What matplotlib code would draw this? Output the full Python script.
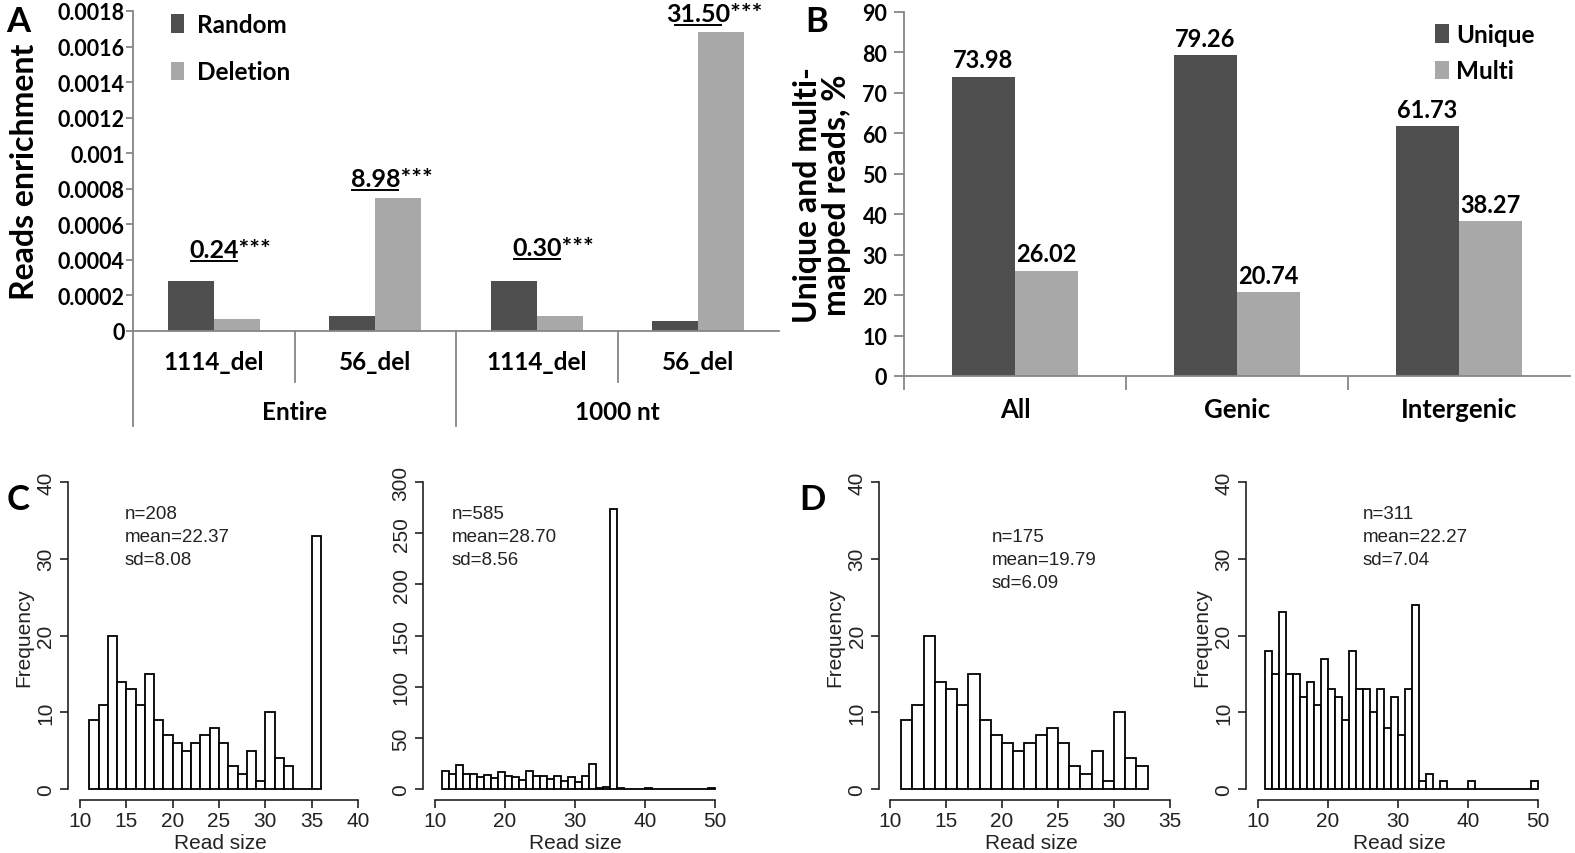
import numpy as np
import matplotlib
matplotlib.use("Agg")
import matplotlib.pyplot as plt
from matplotlib.transforms import Affine2D, blended_transform_factory

# ---------------- data ----------------
cats_A = ['1114_del', '56_del', '1114_del', '56_del']
groups_A = ['Entire', '1000 nt']
random_A = [0.000279, 0.0000837, 0.000279, 0.000054]
deletion_A = [0.000067, 0.000746, 0.000086, 0.00168]
ratio_A = ['0.24***', '8.98***', '0.30***', '31.50***']
ticks_A = [0, 0.0002, 0.0004, 0.0006, 0.0008, 0.001, 0.0012, 0.0014, 0.0016, 0.0018]
ticklabels_A = ['0', '0.0002', '0.0004', '0.0006', '0.0008', '0.001', '0.0012', '0.0014', '0.0016', '0.0018']

cats_B = ['All', 'Genic', 'Intergenic']
unique_B = [73.98, 79.26, 61.73]
multi_B = [26.02, 20.74, 38.27]

c1_first_bin = 11
c1_counts = [9, 11, 20, 14, 13, 11, 15, 9, 7, 6, 5, 6, 7, 8, 6, 3, 2, 5, 1, 10, 4, 3, 0, 0, 33]
c2_first_bin = 11
c2_counts = [18, 15, 23, 15, 15, 12, 14, 11, 17, 13, 12, 9, 18, 13, 13, 10, 13, 8, 12, 7,
             13, 24, 1, 2, 274, 1, 0, 0, 0, 1, 0, 0, 0, 0, 0, 0, 0, 0, 1]
d1_first_bin = 11
d1_counts = [9, 11, 20, 14, 13, 11, 15, 9, 7, 6, 5, 6, 7, 8, 6, 3, 2, 5, 1, 10, 4, 3]
d2_first_bin = 11
d2_counts = [18, 15, 23, 15, 15, 12, 14, 11, 17, 13, 12, 9, 18, 13, 13, 10, 13, 8, 12, 7,
             13, 24, 1, 2, 0, 1, 0, 0, 0, 1, 0, 0, 0, 0, 0, 0, 0, 0, 1]
stats = [('n=208', 'mean=22.37', 'sd=8.08'),
         ('n=585', 'mean=28.70', 'sd=8.56'),
         ('n=175', 'mean=19.79', 'sd=6.09'),
         ('n=311', 'mean=22.27', 'sd=7.04')]

# ---------------- style ----------------
DARK = '#4f4f4f'
LIGHT = '#a8a8a8'
AXC = '#868686'
BOLD_FONT = ['Lato', 'DejaVu Sans']
R_FONT = ['Liberation Sans', 'DejaVu Sans']

W, H = 1575, 854
fig = plt.figure(figsize=(W / 100, H / 100), dpi=100)
pix = Affine2D().scale(1.0 / W, -1.0 / H).translate(0, 1) + fig.transFigure


def px_rect(l, t, r, b):
    return [l / W, 1 - b / H, (r - l) / W, (b - t) / H]


# ================= Panel A =================
axA = fig.add_axes(px_rect(133, 12, 779, 332))
xA = np.arange(len(cats_A)) + 0.5
bw = 0.285
axA.bar(xA - bw / 2, random_A, width=bw, color=DARK, label='Random')
axA.bar(xA + bw / 2, deletion_A, width=bw, color=LIGHT, label='Deletion')
axA.set_xlim(0, len(cats_A))
axA.set_ylim(0, 0.0018)
axA.set_yticks(ticks_A)
axA.set_yticklabels(ticklabels_A, fontfamily=BOLD_FONT, fontweight='bold', fontsize=15.5)
axA.set_xticks([])
for s in ['top', 'right']:
    axA.spines[s].set_visible(False)
for s in ['left', 'bottom']:
    axA.spines[s].set_color(AXC)
    axA.spines[s].set_linewidth(1.3)
axA.tick_params(axis='y', length=5, color=AXC, width=1.3, pad=1)
axA.set_ylabel('Reads enrichment', fontfamily=BOLD_FONT, fontweight='bold', fontsize=23,
               labelpad=13)

# bracket annotations
bracket_offsets_px = [20, 8, 22, 7]
for i in range(len(cats_A)):
    top = max(random_A[i], deletion_A[i])
    ylev = top + bracket_offsets_px[i] * 0.0018 / 320
    axA.plot([xA[i] - bw / 2, xA[i] + bw / 2], [ylev, ylev], color='black', lw=1.4,
             clip_on=False)
    axA.annotate(ratio_A[i], (xA[i] + 0.1, ylev), xytext=(0, 0), textcoords='offset points',
                 ha='center', va='bottom', fontfamily=BOLD_FONT, fontweight='bold',
                 fontsize=18, annotation_clip=False)

# category axis below (multi-level)
blend = blended_transform_factory(axA.transData, pix)
for i in range(len(cats_A)):
    axA.text(xA[i], 363, cats_A[i], transform=blend, ha='center', va='center',
             fontfamily=BOLD_FONT, fontweight='bold', fontsize=17.5)
for j, g in enumerate(groups_A):
    axA.text(2 * j + 1, 413, g, transform=blend, ha='center', va='center',
             fontfamily=BOLD_FONT, fontweight='bold', fontsize=17.5)
for k in range(len(cats_A)):
    ybot = 427 if k % 2 == 0 else 383
    axA.plot([k, k], [332, ybot], transform=blend, color=AXC, lw=1.3, clip_on=False)

legA = axA.legend(loc='upper left', bbox_to_anchor=(0.025, 1.062), frameon=False,
                  prop={'family': BOLD_FONT, 'weight': 'bold', 'size': 17.5},
                  handlelength=0.55, handleheight=0.8, handletextpad=0.5, labelspacing=1.0)

# ================= Panel B =================
axB = fig.add_axes(px_rect(904, 13, 1570, 377))
xB = np.arange(len(cats_B)) + 0.5
bwB = 0.285
bu = axB.bar(xB - bwB / 2, unique_B, width=bwB, color=DARK, label='Unique')
bm = axB.bar(xB + bwB / 2, multi_B, width=bwB, color=LIGHT, label='Multi')
for bars, vals in ((bu, unique_B), (bm, multi_B)):
    for b, v in zip(bars, vals):
        axB.annotate(f'{v:.2f}', (b.get_x() + b.get_width() / 2, v), xytext=(0, 4),
                     textcoords='offset points', ha='center', va='bottom',
                     fontfamily=BOLD_FONT, fontweight='bold', fontsize=17)
axB.set_xlim(0, len(cats_B))
axB.set_ylim(0, 90)
axB.set_yticks(np.arange(0, 91, 10))
axB.set_yticklabels([str(v) for v in range(0, 91, 10)], fontfamily=BOLD_FONT,
                    fontweight='bold', fontsize=15.5)
axB.set_xticks(np.arange(0, len(cats_B)))
axB.set_xticklabels([])
axB.tick_params(axis='x', length=10, color=AXC, width=1.3)
axB.tick_params(axis='y', length=7, color=AXC, width=1.3, pad=5)
for s in ['top', 'right']:
    axB.spines[s].set_visible(False)
for s in ['left', 'bottom']:
    axB.spines[s].set_color(AXC)
    axB.spines[s].set_linewidth(1.3)
blendB = blended_transform_factory(axB.transData, pix)
for i, c in enumerate(cats_B):
    axB.text(xB[i], 410, c, transform=blendB, ha='center', va='center',
             fontfamily=BOLD_FONT, fontweight='bold', fontsize=18.5)
axB.set_ylabel('Unique and multi-\nmapped reads, %', fontfamily=BOLD_FONT, fontweight='bold',
               fontsize=23, labelpad=8, linespacing=1.0)
axB.legend(loc='upper left', bbox_to_anchor=(0.765, 1.03), frameon=False,
           prop={'family': BOLD_FONT, 'weight': 'bold', 'size': 17.5},
           handlelength=0.55, handleheight=0.8, handletextpad=0.3, labelspacing=0.55)

# ================= Histograms =================

def r_hist(counts, first_bin, xt, xt_pix, yt, yt_pix, yaxis_x, xaxis_y, right_pix, top_pix,
           txt, txt_x, txt_y, ylabel=True):
    sx = (xt_pix[1] - xt_pix[0]) / (xt[-1] - xt[0])
    sy = (yt_pix[0] - yt_pix[1]) / (yt[-1] - yt[0])
    xlo = xt[0] + (yaxis_x - xt_pix[0]) / sx
    xhi = xt[0] + (right_pix - xt_pix[0]) / sx
    ylo = yt[0] - (xaxis_y - yt_pix[0]) / sy
    yhi = yt[0] + (yt_pix[0] - top_pix) / sy
    ax = fig.add_axes(px_rect(yaxis_x, top_pix, right_pix, xaxis_y))
    edges = np.arange(first_bin, first_bin + len(counts))
    ax.bar(edges, counts, width=1.0, align='edge', color='white', edgecolor='black',
           linewidth=1.3)
    ax.set_xlim(xlo, xhi)
    ax.set_ylim(ylo, yhi)
    ax.set_xticks(xt)
    ax.set_yticks(yt)
    ax.set_xticklabels([str(v) for v in xt], fontfamily=R_FONT, fontsize=15)
    ax.set_yticklabels([str(v) for v in yt], fontfamily=R_FONT, fontsize=15, rotation=90,
                       va='center')
    for s in ['top', 'right']:
        ax.spines[s].set_visible(False)
    ax.spines['left'].set_bounds(yt[0], yt[-1])
    ax.spines['bottom'].set_bounds(xt[0], xt[-1])
    for s in ['left', 'bottom']:
        ax.spines[s].set_linewidth(1.2)
        ax.spines[s].set_color('#222222')
    ax.tick_params(axis='both', length=6, width=1.2, color='#222222', labelcolor='#222222')
    ax.tick_params(axis='x', pad=2)
    ax.tick_params(axis='y', pad=3)
    ax.set_xlabel('Read size', fontfamily=R_FONT, fontsize=15, color='#222222', labelpad=2)
    if ylabel:
        ax.set_ylabel('Frequency', fontfamily=R_FONT, fontsize=15, color='#222222',
                      labelpad=2)
    for k, t in enumerate(txt):
        ax.text(txt_x, txt_y + 23 * k, t, transform=pix, ha='left', va='center',
                fontfamily=R_FONT, fontsize=13.5, color='#222222')
    return ax


r_hist(c1_counts, c1_first_bin, [10, 15, 20, 25, 30, 35, 40], (80, 358), [0, 10, 20, 30, 40],
       (790, 483), 68, 801, 372, 475, stats[0], 125, 515)
r_hist(c2_counts, c2_first_bin, [10, 20, 30, 40, 50], (435, 715), [0, 50, 100, 150, 200, 250, 300],
       (790, 483), 423, 801, 728, 475, stats[1], 452, 515, ylabel=False)
r_hist(d1_counts, d1_first_bin, [10, 15, 20, 25, 30, 35], (890, 1170), [0, 10, 20, 30, 40],
       (790, 483), 879, 801, 1183, 475, stats[2], 992, 538)
r_hist(d2_counts, d2_first_bin, [10, 20, 30, 40, 50], (1258, 1538), [0, 10, 20, 30, 40],
       (790, 483), 1246, 801, 1552, 475, stats[3], 1363, 515)

# panel letters
for letter, (lx, ly) in zip('ABCD', [(18, 22), (817, 22), (18, 500), (812, 500)]):
    fig.text(lx, ly, letter, transform=pix, ha='center', va='center',
             fontfamily=BOLD_FONT, fontweight='bold', fontsize=25)

fig.savefig('out.png', dpi=100, facecolor='white')
